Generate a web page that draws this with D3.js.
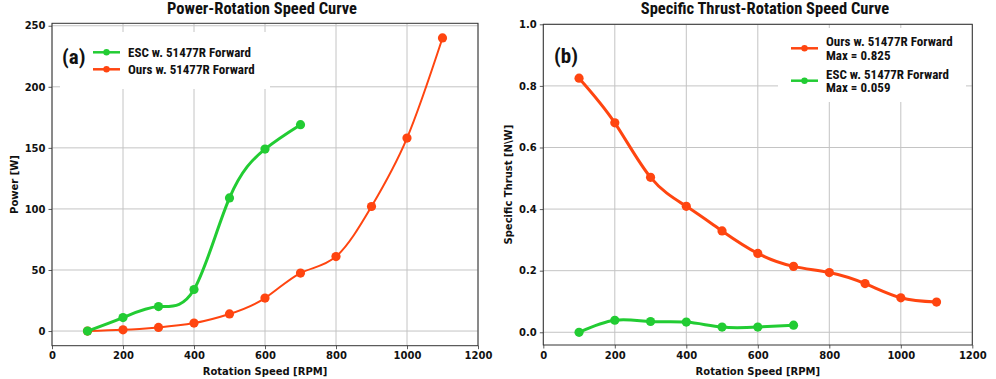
<!DOCTYPE html>
<html>
<head>
<meta charset="utf-8">
<script src="https://cdn.jsdelivr.net/npm/d3@7"></script>
<style>
  body { margin: 0; background: #fff; }
  .tick text { font-family: "DejaVu Sans", sans-serif; font-weight: bold; font-size: 10px; fill: #111; }
  .ttl { font-family: "Liberation Sans Narrow", "Roboto Condensed", "DejaVu Sans Condensed", sans-serif; font-weight: bold; }
  .lab { font-family: "DejaVu Sans", sans-serif; font-weight: bold; font-size: 10px; fill: #111; }
</style>
</head>
<body>
<div id="chart"></div>
<script>
// rotation speeds (RPM)
var rpm_esc = [100, 200, 300, 400, 500, 600, 700];
var rpm_ours = [100, 200, 300, 400, 500, 600, 700, 800, 900, 1000, 1100];

// power [W]
var power_esc = [0, 11, 20, 34, 109, 149, 169];
var power_ours = [0, 1, 3, 6.5, 14, 27, 47.5, 61, 102, 158, 240];

// specific thrust [N\W]
var thrust_ours = [0.825, 0.680, 0.503, 0.409, 0.329, 0.256, 0.214, 0.194, 0.158, 0.112, 0.098];
var thrust_esc = [0, 0.039, 0.035, 0.033, 0.017, 0.017, 0.023];

var x_ticks = [0, 200, 400, 600, 800, 1000, 1200];
var power_ticks = [0, 50, 100, 150, 200, 250];
var thrust_ticks = [0, 0.2, 0.4, 0.6, 0.8, 1.0];

var GREEN = "#22cc33", ORANGE = "#ff4510";

var svg = d3.select("#chart").append("svg")
    .attr("width", 996)
    .attr("height", 379);

function zip(xs, ys) {
    return xs.map(function(d, i) { return [d, ys[i]]; });
}

function draw_panel(p) {
    var x = d3.scaleLinear().domain([0, 1200]).range([p.left, p.right]);
    var y = d3.scaleLinear().domain(p.ydom).range([p.bottom, p.top]);
    var g = svg.append("g");

    // grid
    g.append("g").selectAll("line").data(x_ticks).enter().append("line")
        .attr("x1", function(d) { return x(d); }).attr("x2", function(d) { return x(d); })
        .attr("y1", p.top).attr("y2", p.bottom)
        .attr("stroke", "#c4c4c4").attr("stroke-width", 1);
    g.append("g").selectAll("line").data(p.yticks).enter().append("line")
        .attr("y1", function(d) { return y(d); }).attr("y2", function(d) { return y(d); })
        .attr("x1", p.left).attr("x2", p.right)
        .attr("stroke", "#c4c4c4").attr("stroke-width", 1);

    // legend box hides grid
    g.append("rect")
        .attr("x", p.box[0]).attr("y", p.box[1])
        .attr("width", p.box[2]).attr("height", p.box[3])
        .attr("fill", "#fff");

    // axes
    var xa = g.append("g").attr("transform", "translate(0," + p.bottom + ")")
        .call(d3.axisBottom(x).tickValues(x_ticks).tickSize(3.5).tickPadding(3).tickFormat(d3.format("d")));
    var ya = g.append("g").attr("transform", "translate(" + p.left + ",0)")
        .call(d3.axisLeft(y).tickValues(p.yticks).tickSize(3.5).tickPadding(3).tickFormat(d3.format(p.yfmt)));
    [xa, ya].forEach(function(a) {
        a.select(".domain").remove();
        a.selectAll(".tick line").attr("stroke", "#333").attr("stroke-width", 0.8);
    });

    g.append("rect")
        .attr("x", p.left).attr("y", p.top)
        .attr("width", p.right - p.left).attr("height", p.bottom - p.top)
        .attr("fill", "none").attr("stroke", "#333").attr("stroke-width", 1);

    // series
    var line = d3.line()
        .x(function(d) { return x(d[0]); })
        .y(function(d) { return y(d[1]); })
        .curve(d3.curveNatural);

    p.series.forEach(function(s) {
        var pts = zip(s.xs, s.ys);
        g.append("path").datum(pts)
            .attr("d", line)
            .attr("fill", "none")
            .attr("stroke", s.color)
            .attr("stroke-width", s.width);
        g.append("g").selectAll("circle").data(pts).enter().append("circle")
            .attr("cx", function(d) { return x(d[0]); })
            .attr("cy", function(d) { return y(d[1]); })
            .attr("r", 4.6)
            .attr("fill", s.color);
    });

    // legend entries
    p.legend.forEach(function(l) {
        g.append("line")
            .attr("x1", p.lx).attr("x2", p.lx + 27)
            .attr("y1", l.y).attr("y2", l.y)
            .attr("stroke", l.color).attr("stroke-width", 2.5);
        g.append("circle")
            .attr("cx", p.lx + 13.5).attr("cy", l.y).attr("r", 3.2)
            .attr("fill", l.color);
        var t = g.append("text").attr("class", "ttl")
            .attr("x", p.lx + 35).attr("y", l.y)
            .attr("font-size", 13).attr("fill", "#111");
        l.text.forEach(function(s, i) {
            t.append("tspan").attr("x", p.lx + 35)
                .attr("y", l.y + 4.5 - (l.text.length - 1) * 6.5 + i * 13.3)
                .text(s);
        });
    });

    // panel tag
    g.append("text").attr("class", "ttl")
        .attr("x", p.tag[0]).attr("y", p.tag[1])
        .attr("font-size", 21).attr("fill", "#111")
        .text(p.tagText);

    // title
    g.append("text").attr("class", "ttl")
        .attr("x", p.titleX).attr("y", 14)
        .attr("text-anchor", "middle")
        .attr("font-size", 16.5).attr("fill", "#111")
        .text(p.title);

    // axis labels
    g.append("text").attr("class", "lab")
        .attr("x", (p.left + p.right) / 2).attr("y", 375)
        .attr("text-anchor", "middle")
        .text("Rotation Speed [RPM]");
    g.append("text").attr("class", "lab")
        .attr("transform", "translate(" + p.ylabX + "," + ((p.top + p.bottom) / 2) + ") rotate(-90)")
        .attr("text-anchor", "middle")
        .text(p.ylab);
}

draw_panel({
    left: 52, right: 478, top: 23.3, bottom: 345.7,
    ydom: [-12, 252], yticks: power_ticks, yfmt: "d",
    box: [60, 32, 210, 57],
    lx: 93,
    legend: [
        { y: 52.3, color: GREEN, text: ["ESC w. 51477R Forward"] },
        { y: 69.3, color: ORANGE, text: ["Ours w. 51477R Forward"] }
    ],
    series: [
        { xs: rpm_ours, ys: power_ours, color: ORANGE, width: 2 },
        { xs: rpm_esc, ys: power_esc, color: GREEN, width: 3 }
    ],
    tag: [62, 64], tagText: "(a)",
    title: "Power-Rotation Speed Curve", titleX: 262,
    ylab: "Power [W]", ylabX: 18
});

draw_panel({
    left: 543.3, right: 972.3, top: 24.3, bottom: 345,
    ydom: [-0.0413, 1.0], yticks: thrust_ticks, yfmt: ".1f",
    box: [778, 28, 188, 74],
    lx: 791,
    legend: [
        { y: 48.3, color: ORANGE, text: ["Ours w. 51477R Forward", "Max = 0.825"] },
        { y: 80.7, color: GREEN, text: ["ESC w. 51477R Forward", "Max = 0.059"] }
    ],
    series: [
        { xs: rpm_ours, ys: thrust_ours, color: ORANGE, width: 3 },
        { xs: rpm_esc, ys: thrust_esc, color: GREEN, width: 3 }
    ],
    tag: [554, 63], tagText: "(b)",
    title: "Specific Thrust-Rotation Speed Curve", titleX: 765,
    ylab: "Specific Thrust [N\\W]", ylabX: 512
});
</script>
</body>
</html>
